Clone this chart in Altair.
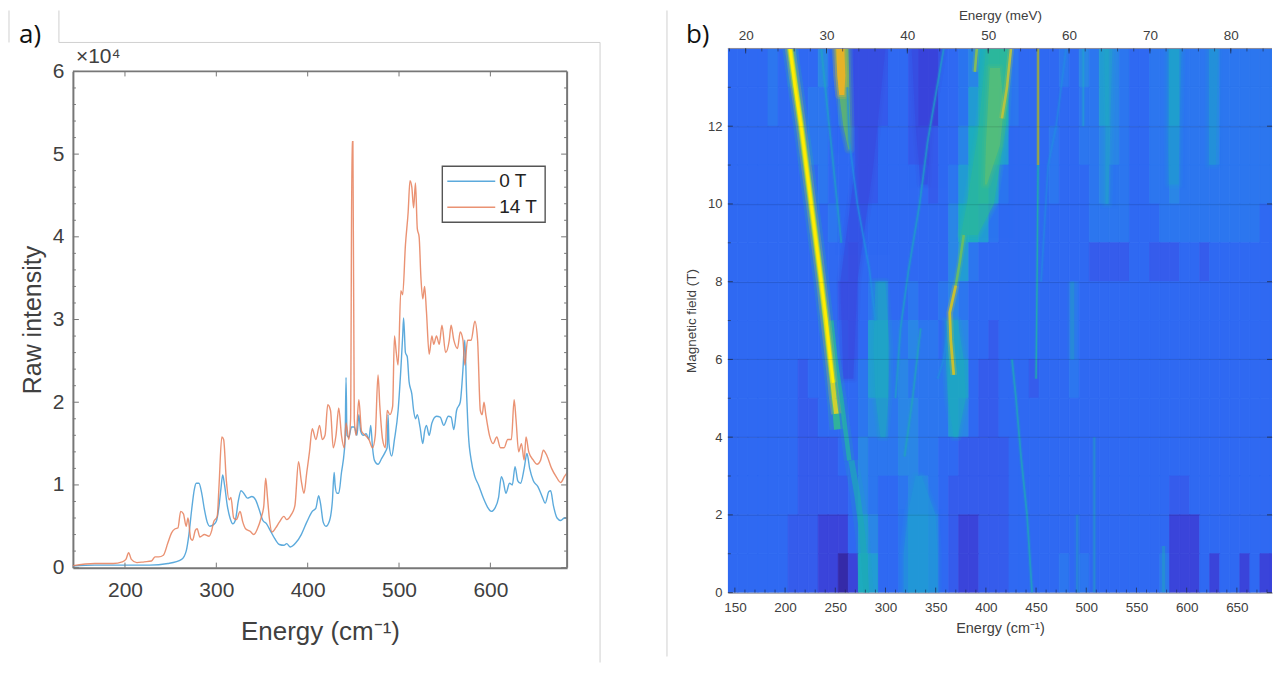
import altair as alt
import pandas as pd

# ---------- panel a: spectra ----------
E0 = [141,167,197,227,247,262,267,270,273,276,278,281,284,287,290,293,297,300,303,305,307,309,312,315,318,321,324,327,330,334,339,343,347,351,355,359,364,369,374,377,381,387,393,399,405,409,412,414,417,420,424,427,429,430,432,434,437,440,441,442,443,445,448,451,454,456,458,461,464,467,469,471,473,477,481,485,487,488,489,492,495,499,502,504,505,507,509,511,514,516,518,520,523,526,528,530,533,536,541,545,549,554,557,560,563,567,570,572,574,576,579,583,587,592,597,601,605,609,612,614,617,621,624,627,630,633,637,640,643,647,652,657,660,664,666,669,673,677,681,686]
I0 = [0.02,0.03,0.03,0.03,0.05,0.1,0.2,0.4,0.7,0.95,1.02,1.02,0.9,0.7,0.55,0.5,0.52,0.56,0.75,0.95,1.12,1.0,0.75,0.6,0.53,0.58,0.8,0.93,0.9,0.84,0.86,0.82,0.7,0.57,0.53,0.45,0.35,0.28,0.27,0.29,0.25,0.3,0.4,0.55,0.68,0.72,0.87,0.78,0.55,0.5,0.57,0.8,1.15,1.0,0.9,0.9,1.15,1.4,1.55,2.3,1.6,1.58,1.7,1.7,1.6,1.85,1.65,1.6,1.62,1.55,1.72,1.45,1.3,1.25,1.32,1.4,1.45,1.85,1.5,1.35,1.55,1.9,2.4,2.8,3.02,2.6,2.55,2.25,2.1,1.9,1.8,1.85,1.7,1.5,1.65,1.72,1.6,1.75,1.83,1.82,1.72,1.83,1.82,1.67,1.9,2.0,2.4,2.75,2.1,1.6,1.3,1.1,1.0,0.85,0.73,0.68,0.72,0.85,1.1,1.05,0.9,1.02,1.0,1.22,1.05,1.02,1.2,1.38,1.2,1.05,0.98,0.85,0.78,0.92,0.93,0.75,0.6,0.57,0.6,0.6]
E14 = [141,167,187,197,201,204,207,213,221,229,233,237,242,247,251,255,258,261,264,267,269,272,274,277,279,282,287,292,295,297,301,303,306,308,311,314,316,319,322,326,329,332,337,341,345,349,352,354,356,358,361,365,369,374,377,382,386,390,393,396,399,402,405,409,413,416,419,422,425,428,431,434,437,440,442,445,447,448.5,449.5,451,453,456,459,463,467,471,474,477,479,482,485,487,490,493,495,497,499,502,504,507,510,512,514,516,518,520,522,524,526,528,530,533,536,538,541,544,547,551,555,557,560,564,567,570,572,575,579,583,586,589,591,593,595,599,603,607,611,615,619,623,626,628,631,634,637,639,642,647,651,655,658,662,667,672,677,681,686]
I14 = [0.02,0.05,0.05,0.07,0.1,0.18,0.1,0.06,0.07,0.08,0.13,0.13,0.15,0.3,0.42,0.47,0.48,0.68,0.65,0.5,0.6,0.35,0.33,0.45,0.47,0.37,0.4,0.38,0.45,0.55,0.62,1.0,1.58,1.55,1.05,0.82,0.85,0.6,0.58,0.68,0.55,0.47,0.44,0.4,0.47,0.6,0.75,1.08,0.85,0.6,0.43,0.48,0.55,0.62,0.58,0.64,0.75,1.28,1.05,0.9,1.15,1.4,1.68,1.55,1.72,1.55,1.6,1.97,1.9,1.45,1.6,1.93,1.6,1.45,1.75,1.55,1.8,5.15,5.15,1.8,1.6,2.03,1.65,1.6,1.55,1.45,1.6,2.33,1.95,1.55,1.45,1.9,1.85,1.95,2.8,2.6,2.45,3.35,3.3,3.9,4.3,4.68,4.6,4.35,4.65,4.1,4.0,3.5,3.25,3.4,3.1,2.58,2.8,2.7,2.8,2.7,2.93,2.6,2.75,2.93,2.75,2.65,2.85,2.75,2.45,2.75,2.75,2.98,2.75,1.9,1.85,2.0,1.85,1.6,1.5,1.58,1.45,1.45,1.55,1.55,2.03,1.8,1.4,1.5,1.3,1.58,1.4,1.3,1.25,1.3,1.42,1.35,1.2,1.1,1.03,1.1,1.18]

A_XTICKS = [200, 300, 400, 500, 600]
A_YTICKS = [0, 1, 2, 3, 4, 5, 6]
A_YMINOR = [v / 5 for v in range(0, 31)]
A_XDOM = [143, 684]
A_YDOM = [0, 6]

# ---------- panel b: map ----------
# One string per 1 T row (top row = 13-14 T), one digit per 10 cm-1 column from 143 cm-1.
MAP_ROWS = [
 "3333434335" "3522223321" "1334578843" "3334354654" "3344644454" "44444",
 "3333433344" "3422223321" "1334678743" "3333344654" "3344644454" "44444",
 "3333333344" "3332233322" "2335788633" "3343344554" "3344544454" "44444",
 "3333333334" "3332233333" "2346786433" "3343334544" "3344544444" "44444",
 "3333333333" "4333333333" "3357764333" "3333334444" "3334444444" "44433",
 "3333333333" "3323333333" "3356433333" "3333332222" "3322233233" "33333",
 "3333333333" "3223453343" "3454333333" "3333433333" "3333333333" "33333",
 "3333333333" "3323664454" "4365332333" "3333433333" "3333333333" "33333",
 "3333333233" "3334664544" "4466322333" "2333433333" "3333333333" "33333",
 "3333333223" "3334554554" "4465322333" "3333333333" "3333333333" "33333",
 "3333333222" "2335444554" "4332222233" "3333333333" "3333333333" "33333",
 "3333333222" "2235433455" "4322222233" "3333333333" "3333223333" "33333",
 "3333332221" "1136533466" "5321122233" "3333333333" "3333111333" "33333",
 "3333332221" "1017633466" "5321122233" "3334343333" "3334111313" "31311",
]
MAP_ROWS = ["".join(r) for r in MAP_ROWS]
MAP_COLORS = ["#352aa8", "#3a44da", "#355cec", "#2f69f2", "#2c76ef", "#2a86e6", "#229cd4", "#1eacc0", "#2cb8a2", "#62c070"]
B_XTICKS = [150, 200, 250, 300, 350, 400, 450, 500, 550, 600, 650]
B_YTICKS = [0, 2, 4, 6, 8, 10, 12]
B_XMINOR = [150 + 10 * i for i in range(54) if i % 5]
B_MEV = [20, 30, 40, 50, 60, 70, 80]
B_MEVMINOR = [18 + 2 * i for i in range(34)]
B_XDOM = [143, 685]
B_MEVDOM = [17.8, 85.1]
B_YDOM = [0, 14]

# wedges: (colour, opacity, fields, left edge, right edge)
WEDGES = [
 ("#3a44dc", 0.45, [14, 12, 10.5], [326, 330, 335], [358, 345, 342]),
 ("#3a44dc", 0.45, [14, 11, 8, 5.5], [268, 270, 255, 258], [300, 288, 272, 268]),
 ("#2196d8", 0.6, [0, 1, 2, 3], [318, 318, 322, 330], [352, 352, 350, 336]),
 ("#1ea8c0", 0.5, [4, 5, 6.3, 8], [295, 290, 288, 290], [300, 303, 304, 300]),
 ("#1ea8c0", 0.6, [4, 5, 6, 7], [368, 362, 360, 360], [372, 380, 378, 372]),
 ("#2cb89a", 0.6, [9.2, 10, 12, 14], [375, 381, 393, 400], [392, 408, 420, 424]),
 ("#62c070", 0.6, [10.5, 11.5, 12.5, 13.5], [399, 400, 402, 404], [401, 414, 418, 414]),
 ("#62b868", 0.8, [11.4, 12, 13, 14], [263, 258, 253, 250], [265, 265, 264, 263]),
 ("#eeb224", 0.9, [12.8, 13.3, 14], [254, 252, 251], [259, 260, 259]),
 ("#1fa0c8", 0.4, [10.5, 12, 14], [582, 581, 581], [592, 593, 595]),
 ("#1fa0c8", 0.3, [11, 14], [622, 622], [629, 631]),
 ("#20a8c0", 0.4, [10, 12, 14], [519, 519, 518], [522, 524, 526]),
]
# ridges: (colour, stroke width, opacity, fields, energies)
RIDGES = [
 ("#1ea8c0", 2.0, 0.55, [14, 12, 10, 9], [236, 244, 252, 256]),
 ("#2090e0", 1.8, 0.65, [13, 11.6, 10, 8.3, 7], [262, 264, 272, 284, 290]),
 ("#1f9ec8", 1.8, 0.7, [14, 11.6, 10, 8.3, 6.8, 5], [358, 342, 334, 323, 315, 310]),
 ("#1fa8b8", 1.8, 0.6, [6.8, 5, 3.5], [335, 327, 319]),
 ("#2090e0", 1.8, 0.6, [7, 6, 5.5], [363, 358, 352]),
 ("#2090e0", 1.8, 0.5, [14, 12, 11, 8], [480, 470, 462, 455]),
 ("#1fa8c8", 1.8, 0.5, [14, 12], [497, 497]),
 ("#1fa8b8", 4.0, 0.35, [8, 6], [486, 486]),
 ("#22a0c0", 2.0, 0.5, [4, 2, 0], [508, 508, 508]),
 ("#22a0c0", 2.5, 0.4, [2, 0], [491, 491]),
 ("#22a0c0", 3.0, 0.5, [1.2, 0], [577, 577]),
 ("#1fa8b8", 1.8, 0.7, [6, 5, 3.5, 2, 0], [426, 430, 435, 441, 446]),
 ("#20b0a8", 1.5, 0.8, [11, 8, 5.5], [452, 451, 450]),
 ("#a8b030", 1.6, 0.95, [14, 11], [452, 452]),
 ("#22b8a0", 4.5, 0.7, [7, 6, 5, 4, 3.4], [246, 250, 256, 261, 264]),
 ("#1ea8b8", 6, 0.7, [3.4, 2.5, 1.5, 0], [266, 272, 277, 281]),
 ("#30bc90", 6.5, 0.85, [14, 12, 10, 8, 6, 4.8, 4.2], [205, 216, 226, 236, 245, 250, 252]),
 ("#cfd030", 4.4, 1.0, [14, 12, 10, 8, 6, 5, 4.6], [205, 216, 226, 236, 245, 249, 251]),
 ("#ffee00", 2.6, 1.0, [14, 13, 12, 11, 10, 9, 8, 7, 6, 5.4], [205, 210, 216, 221, 226, 231, 236, 241, 245, 248]),
 ("#8cc24c", 2.6, 0.9, [14, 13.4], [391, 389]),
 ("#c0c43a", 2.6, 0.9, [14, 13, 12.2], [425, 421, 416]),
 ("#6cc060", 2.6, 0.9, [9.2, 8.5, 7.9], [378, 374, 370]),
 ("#c8c030", 2.8, 1.0, [7.9, 7.2, 6.5, 5.6], [370, 364, 365, 368]),
]

LEGEND_NAMES = ["0 T", "14 T"]
LINE_COLORS = ["#3f9bd6", "#e67f5a"]
INK = "#404040"
FRAME = "#777777"
EDGE = "#d0d0d0"
TICK = "#23304f"
FONT = "Liberation Sans"
one = alt.Data(values=[{"k": 0}])


def guide(x, y, x2=None, y2=None, color=EDGE, w=1, op=1):
    enc = {"x": alt.value(x), "y": alt.value(y)}
    if x2 is not None:
        enc["x2"] = alt.value(x2)
    if y2 is not None:
        enc["y2"] = alt.value(y2)
    return alt.Chart(one).mark_rule(color=color, strokeWidth=w, opacity=op).encode(**enc)


def label(text, x, y, size, color="#111111", font=FONT):
    return alt.Chart(one).mark_text(text=text, fontSize=size, font=font, align="left", baseline="middle", color=color).encode(x=alt.value(x), y=alt.value(y))


# ---------- panel a ----------
AW, AH, ATOP = 495, 520, 23
ay = alt.Scale(domain=A_YDOM, range=[AH, ATOP])
ax = alt.Scale(domain=A_XDOM)
spec = pd.concat([
    pd.DataFrame({"E": E0, "I": I0, "s": LEGEND_NAMES[0]}),
    pd.DataFrame({"E": E14, "I": I14, "s": LEGEND_NAMES[1]}),
])
lines = alt.Chart(spec).mark_line(strokeWidth=1.4, opacity=0.85, clip=True, interpolate="monotone").encode(
    x=alt.X("E:Q", scale=ax, axis=alt.Axis(values=A_XTICKS, title="Energy (cm⁻¹)", titleFontSize=26, titleFont=FONT,
                                           titleFontWeight="normal", titleColor=INK, titlePadding=18, labelFontSize=21,
                                           labelFont=FONT, labelColor=INK, tickSize=0, labelPadding=12, domainColor=FRAME,
                                           domainWidth=2, grid=False, format="d")),
    y=alt.Y("I:Q", scale=ay, axis=alt.Axis(values=A_YTICKS, title="Raw intensity", titleFontSize=25, titleFont=FONT,
                                           titleFontWeight="normal", titleColor=INK, titlePadding=7, labelFontSize=21,
                                           labelFont=FONT, labelColor=INK, tickSize=0, labelPadding=9, domainColor=FRAME,
                                           domainWidth=2, grid=False, format="d")),
    color=alt.Color("s:N", scale=alt.Scale(domain=LEGEND_NAMES, range=LINE_COLORS), legend=None),
    order="E:Q",
)
a_xt = pd.DataFrame({"x": A_XTICKS})
a_yt = pd.DataFrame({"y": A_YMINOR, "major": [int(v == int(v)) for v in A_YMINOR]})
a_layers = [
    lines,
    alt.Chart(a_xt).mark_rule(color=FRAME).encode(x=alt.X("x:Q", scale=ax), y=alt.value(AH - 5), y2=alt.value(AH)),
    alt.Chart(a_xt).mark_rule(color=FRAME).encode(x=alt.X("x:Q", scale=ax), y=alt.value(ATOP), y2=alt.value(ATOP + 5)),
    alt.Chart(a_yt[a_yt.major == 1]).mark_rule(color=FRAME).encode(y=alt.Y("y:Q", scale=ay), x=alt.value(0), x2=alt.value(6)),
    alt.Chart(a_yt[a_yt.major == 1]).mark_rule(color=FRAME).encode(y=alt.Y("y:Q", scale=ay), x=alt.value(AW - 6), x2=alt.value(AW)),
    alt.Chart(a_yt[a_yt.major == 0]).mark_rule(color=FRAME).encode(y=alt.Y("y:Q", scale=ay), x=alt.value(0), x2=alt.value(3)),
    alt.Chart(a_yt[a_yt.major == 0]).mark_rule(color=FRAME).encode(y=alt.Y("y:Q", scale=ay), x=alt.value(AW - 3), x2=alt.value(AW)),
    guide(0, ATOP, x2=AW, color=FRAME, w=1.6),
    guide(AW, ATOP, y2=AH, color=FRAME, w=2),
    guide(-64, -38, y2=-6),
    guide(-14, -38, y2=-6),
    guide(-14, -6, x2=528),
    guide(528, -6, y2=615),
    label("a)", -54, -13, 26, font="Open Sans"),
    label("×10⁴", 3, 9, 21, color=INK),
    # legend box
    alt.Chart(one).mark_rect(fill="white", stroke="#555555", strokeWidth=1.4).encode(
        x=alt.value(370), x2=alt.value(473), y=alt.value(118), y2=alt.value(174)),
    guide(375, 133, x2=423, color=LINE_COLORS[0], w=1.4, op=0.85),
    guide(375, 159, x2=423, color=LINE_COLORS[1], w=1.4, op=0.85),
    label(LEGEND_NAMES[0], 427, 133, 19, color="#222222"),
    label(LEGEND_NAMES[1], 427, 159, 19, color="#222222"),
]
panel_a = alt.layer(*a_layers).properties(width=AW, height=AH)

# ---------- panel b ----------
BW, BH = 545, 545
bx = alt.Scale(domain=B_XDOM)
by = alt.Scale(domain=B_YDOM)
cells = []
for r, row in enumerate(MAP_ROWS):
    for c, ch in enumerate(row):
        cells.append({"e0": 143 + 10 * c, "e1": 153 + 10 * c, "b0": 13 - r, "b1": 14 - r, "v": int(ch)})
map_scale = alt.Scale(domain=list(range(len(MAP_COLORS))), range=MAP_COLORS)
heat = alt.Chart(pd.DataFrame(cells)).mark_rect(clip=True, strokeWidth=0.8).encode(
    x=alt.X("e0:Q", scale=bx, axis=alt.Axis(values=B_XTICKS, title="Energy (cm⁻¹)", titleFontSize=14.5, titleFont=FONT,
                                            titleFontWeight="normal", titleColor=INK, titlePadding=7, labelFontSize=13.5,
                                            labelFont=FONT, labelColor=INK, tickSize=0, labelPadding=8, domainColor="#8a8a9a",
                                            format="d", grid=False)),
    x2="e1:Q",
    y=alt.Y("b0:Q", scale=by, axis=alt.Axis(values=B_YTICKS, title="Magnetic field (T)", titleFontSize=13.5, titleFont=FONT,
                                            titleFontWeight="normal", titleColor=INK, titlePadding=9, labelFontSize=13,
                                            labelFont=FONT, labelColor=INK, tickSize=0, labelPadding=6, domain=False, format="d",
                                            grid=True, gridColor="#000000", gridOpacity=0.13, zindex=1)),
    y2="b1:Q",
    color=alt.Color("v:Q", scale=map_scale, legend=None),
    stroke=alt.Color("v:Q", scale=map_scale, legend=None),
)
b_layers = [heat]
for col, op, fields, lo, hi in WEDGES:
    df = pd.DataFrame({"b": fields, "l": lo, "r": hi})
    for sw, factor in ((8, 0.2), (4, 0.3)):
        b_layers.append(alt.Chart(df).mark_area(orient="horizontal", color=col, stroke=col, strokeWidth=sw,
                                                strokeJoin="round", opacity=op * factor, clip=True).encode(
            y=alt.Y("b:Q", scale=by), x=alt.X("l:Q", scale=bx), x2="r:Q"))
    b_layers.append(alt.Chart(df).mark_area(orient="horizontal", color=col, opacity=op, clip=True).encode(
        y=alt.Y("b:Q", scale=by), x=alt.X("l:Q", scale=bx), x2="r:Q"))
for col, w, op, fields, en in RIDGES:
    df = pd.DataFrame({"b": fields, "e": en, "i": range(len(en))})
    b_layers.append(alt.Chart(df).mark_line(color=col, strokeWidth=w * 2.4, opacity=op * 0.25, clip=True).encode(
        x=alt.X("e:Q", scale=bx), y=alt.Y("b:Q", scale=by), order="i:Q"))
    b_layers.append(alt.Chart(df).mark_line(color=col, strokeWidth=w, opacity=op, clip=True).encode(
        x=alt.X("e:Q", scale=bx), y=alt.Y("b:Q", scale=by), order="i:Q"))
b_minor = pd.DataFrame({"x": B_XMINOR})
b_major = pd.DataFrame({"x": B_XTICKS})
b_ymaj = pd.DataFrame({"y": B_YTICKS})
b_ymin = pd.DataFrame({"y": [1, 3, 5, 7, 9, 11, 13]})
b_layers += [
    alt.Chart(b_minor).mark_rule(color=TICK, opacity=0.7).encode(x=alt.X("x:Q", scale=bx), y=alt.value(BH - 3), y2=alt.value(BH)),
    alt.Chart(b_major).mark_rule(color=TICK, opacity=0.8).encode(x=alt.X("x:Q", scale=bx), y=alt.value(BH - 5), y2=alt.value(BH)),
    alt.Chart(b_ymaj).mark_rule(color=TICK, opacity=0.8).encode(y=alt.Y("y:Q", scale=by), x=alt.value(0), x2=alt.value(5)),
    alt.Chart(b_ymaj).mark_rule(color=TICK, opacity=0.8).encode(y=alt.Y("y:Q", scale=by), x=alt.value(BW - 5), x2=alt.value(BW)),
    alt.Chart(b_ymin).mark_rule(color=TICK, opacity=0.7).encode(y=alt.Y("y:Q", scale=by), x=alt.value(0), x2=alt.value(3)),
    guide(0, 0, x2=BW, color="#8a8a9a", w=1),
    guide(-61, -38, y2=609),
    label("b)", -42, -13, 26, font="Open Sans"),
]
main_b = alt.layer(*b_layers)
mev = alt.Scale(domain=B_MEVDOM)
top_axis = alt.Chart(pd.DataFrame({"m": B_MEV})).mark_rule(color=TICK, opacity=0.8).encode(
    x=alt.X("m:Q", scale=mev,
            axis=alt.Axis(orient="top", values=B_MEV, title="Energy (meV)", titleFontSize=13.5, titleFont=FONT,
                          titleFontWeight="normal", titleColor=INK, titlePadding=6, labelFontSize=13.5, labelFont=FONT,
                          labelColor=INK, tickSize=0, labelPadding=6, domain=False, format="d", grid=False)),
    y=alt.value(0), y2=alt.value(5),
)
top_minor = alt.Chart(pd.DataFrame({"m": B_MEVMINOR})).mark_rule(color=TICK, opacity=0.7).encode(
    x=alt.X("m:Q", scale=mev), y=alt.value(0), y2=alt.value(3))
panel_b = alt.layer(main_b, alt.layer(top_axis, top_minor)).resolve_scale(x="independent").properties(width=BW, height=BH)

chart = alt.hconcat(panel_a, panel_b, spacing=161, bounds="flush").resolve_scale(color="independent").properties(
    padding=0
).configure_view(stroke=None).configure_axis(labelFont=FONT, titleFont=FONT)

chart.save("out.html", embed_options={"renderer": "svg", "actions": False})
